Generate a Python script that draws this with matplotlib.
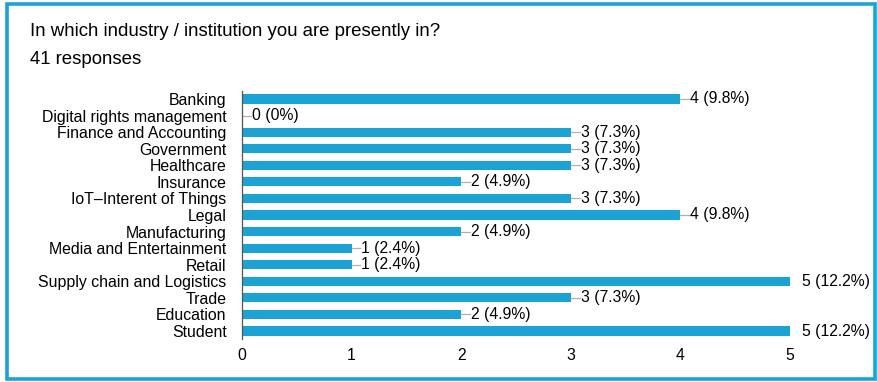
import matplotlib
matplotlib.use("Agg")
from matplotlib import pyplot as plt
from matplotlib.patches import Rectangle

# Data
categories = ["Banking", "Digital rights management", "Finance and Accounting",
              "Government", "Healthcare", "Insurance", "IoT\u2013Interent of Things",
              "Legal", "Manufacturing", "Media and Entertainment", "Retail",
              "Supply chain and Logistics", "Trade", "Education", "Student"]
counts = [4, 0, 3, 3, 3, 2, 3, 4, 2, 1, 1, 5, 3, 2, 5]
percents = ["9.8%", "0%", "7.3%", "7.3%", "7.3%", "4.9%", "7.3%", "9.8%",
            "4.9%", "2.4%", "2.4%", "12.2%", "7.3%", "4.9%", "12.2%"]
xticks = [0, 1, 2, 3, 4, 5]

title = "In which industry / institution you are presently in?"
subtitle = "41 responses"

plt.rcParams['font.family'] = ['Liberation Sans', 'DejaVu Sans']
blue = "#1ba3d3"

fig = plt.figure(figsize=(8.77, 3.82), dpi=100)
ax = fig.add_axes([242/877, 1-339.3/382, 548/877, 248.6/382])

ypos = list(range(len(categories)))
ax.barh(ypos, counts, height=0.55, color=blue)

# connectors and value labels
for y, c, p in zip(ypos, counts, percents):
    if c < max(counts):
        ax.plot([c, c+0.08], [y, y], color="#b0b0b0", lw=0.9)
        ax.text(c+0.09, y, "%d (%s)" % (c, p), va="center", ha="left", fontsize=11.3)
    else:
        ax.text(c+0.11, y, "%d (%s)" % (c, p), va="center", ha="left", fontsize=11.3,
                clip_on=False)

ax.set_xlim(0, 5)
ax.set_ylim(len(categories)-0.5, -0.5)
ax.set_yticks(ypos)
ax.set_yticklabels(categories, fontsize=11.4)
ax.set_xticks(xticks)
ax.set_xticklabels([str(t) for t in xticks], fontsize=11.3)
ax.tick_params(axis="y", length=0, pad=11)
ax.tick_params(axis="x", length=0, pad=6)
for s in ["top", "right", "bottom"]:
    ax.spines[s].set_visible(False)
ax.spines["left"].set_color("#555555")
ax.spines["left"].set_linewidth(0.9)

fig.text(30/877, 1-32/382, title, fontsize=13.4, va="center", ha="left")
fig.text(30/877, 1-60/382, subtitle, fontsize=13.4, va="center", ha="left")

# frame
fig.patches.append(Rectangle((6.5/877, 3.5/382), 868/877, 375/382, transform=fig.transFigure,
                             fill=False, edgecolor=blue, linewidth=2.6))

fig.savefig("out.png", dpi=100)
